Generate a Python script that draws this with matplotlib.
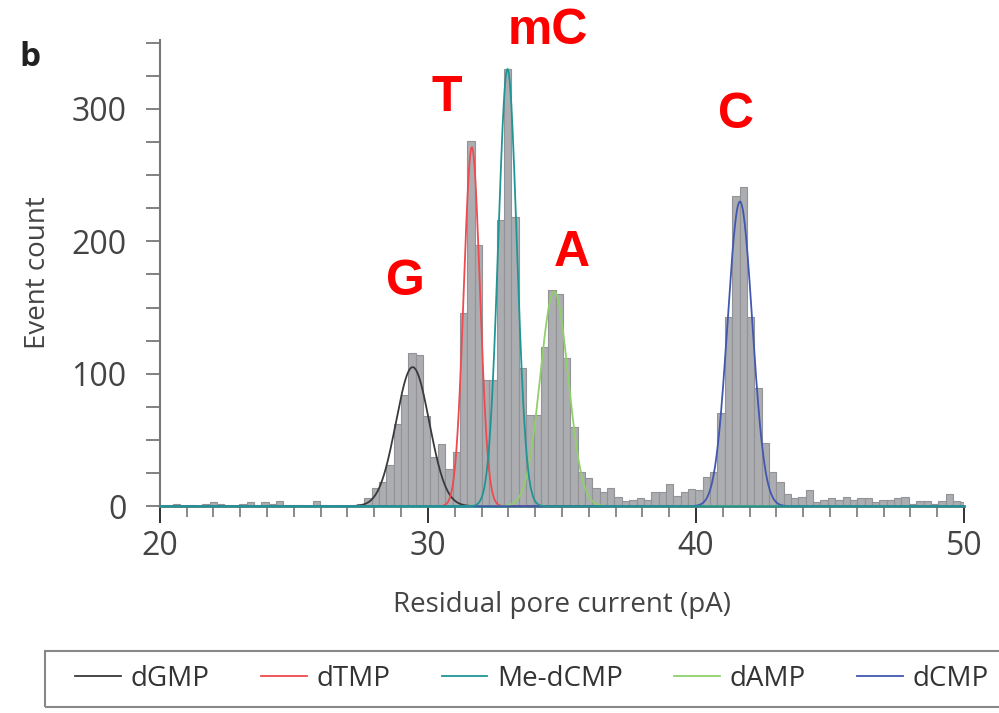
import numpy as np
import matplotlib
matplotlib.use('Agg')
from matplotlib import pyplot as plt
from matplotlib.patches import Rectangle

# histogram of residual pore current (bin width ~0.2745 pA)
bin_start = 19.94
bin_width = 0.2745
counts = [1, 1, 2, 0, 1, 0, 2, 3, 2, 1,
          0, 2, 3, 1, 3, 2, 4, 1, 1, 1,
          0, 4, 1, 0, 1, 0, 1, 2, 6, 14,
          18, 31, 62, 84, 116, 114, 68, 37, 47, 28,
          41, 146, 276, 197, 95, 95, 216, 330, 218, 104,
          69, 69, 120, 163, 160, 112, 60, 26, 21, 14,
          11, 14, 7, 4, 5, 6, 5, 11, 11, 17,
          8, 11, 13, 12, 22, 26, 70, 143, 234, 241,
          143, 89, 48, 26, 18, 9, 6, 7, 12, 3,
          5, 6, 5, 7, 5, 6, 6, 3, 5, 5,
          6, 7, 2, 4, 4, 2, 4, 9, 4, 3]

# gaussian fits per nucleotide
fit_names = ['dGMP', 'dTMP', 'Me-dCMP', 'dAMP', 'dCMP']
fit_centers = [29.43, 31.64, 32.97, 34.71, 41.64]
fit_sigmas = [0.62, 0.30, 0.345, 0.52, 0.46]
fit_heights = [105, 271, 330, 162, 230]
fit_colors = ['#3a3a3a', '#ee4a4f', '#1f9596', '#8fd06a', '#4058b0']
fit_z = [4, 5, 8, 6, 7]  # teal on top along the baseline

# peak labels
peak_labels = ['G', 'T', 'mC', 'A', 'C']
peak_label_x = [29.17, 30.7, 34.48, 35.38, 41.51]
peak_label_y = [169, 308, 359, 191, 295]

plt.rcParams['font.family'] = ['Open Sans', 'DejaVu Sans']
txt_col = '#444444'

fig = plt.figure(figsize=(9.99, 7.13), dpi=100)
ax = fig.add_axes([0.160, 0.290, 0.805, 0.654])

edges = bin_start + bin_width * np.arange(len(counts))
ax.bar(edges, counts, width=bin_width, align='edge', color='#acadb1',
       edgecolor='#939397', linewidth=0.8, zorder=2)

xs = np.linspace(20, 50, 2000)
for i in range(len(fit_names)):
    ys = fit_heights[i] * np.exp(-0.5 * ((xs - fit_centers[i]) / fit_sigmas[i]) ** 2)
    ax.plot(xs, ys, color=fit_colors[i], linewidth=1.3, zorder=fit_z[i], label=fit_names[i],
            clip_on=False)

for lab, lx, ly in zip(peak_labels, peak_label_x, peak_label_y):
    ax.text(lx, ly, lab, color='#ff0000', fontsize=36, fontweight='bold',
            family='Liberation Sans', ha='center', va='center', clip_on=False)

ax.set_xlim(20, 50)
ax.set_ylim(0, 352)
ax.set_xticks([20, 30, 40, 50])
ax.set_xticks(np.arange(20, 51, 1), minor=True)
ax.set_yticks([0, 100, 200, 300])
ax.set_yticks(np.arange(0, 351, 25), minor=True)

for s in ['top', 'right']:
    ax.spines[s].set_visible(False)
ax.spines['left'].set_color('#777777')
ax.spines['bottom'].set_color('#2a8f90')
ax.spines['left'].set_linewidth(1.5)
ax.spines['bottom'].set_linewidth(2.0)

ax.tick_params(axis='x', which='major', length=12, width=1.3, color='#222222',
               labelsize=23, labelcolor=txt_col, pad=5)
ax.tick_params(axis='x', which='minor', length=8, width=1.2, color='#777777')
ax.tick_params(axis='y', which='both', length=10, width=1.3, color='#777777',
               labelsize=23, labelcolor=txt_col, pad=14)

ax.set_xlabel('Residual pore current (pA)', fontsize=20, color=txt_col, labelpad=20)
ax.set_ylabel('Event count', fontsize=20, color=txt_col, labelpad=14)

fig.text(0.030, 0.920, 'b', fontsize=24, fontweight='bold', color='#222222',
         ha='center', va='center')

# legend row in a box running off the right edge
handles, labels = ax.get_legend_handles_labels()
hmap = dict(zip(labels, handles))
fig.legend([hmap[n] for n in fit_names], fit_names, loc='center left',
           bbox_to_anchor=(0.050, 0.048), ncol=5, frameon=False, fontsize=20,
           handlelength=1.65, handletextpad=0.35, columnspacing=1.85, labelcolor='#333333')
fig.patches.append(Rectangle((45 / 999, 6 / 713), 1.0, 56 / 713, transform=fig.transFigure,
                             fill=False, edgecolor='#888888', linewidth=1.5))

fig.savefig('out.png', dpi=100)
